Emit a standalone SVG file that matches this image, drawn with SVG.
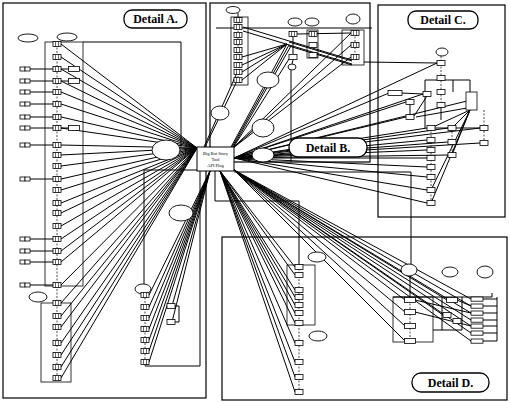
<svg xmlns="http://www.w3.org/2000/svg" width="510" height="402" viewBox="0 0 510 402">
<style>
.fr{fill:none;stroke:#000;stroke-width:1.2}
.bx{fill:none;stroke:#000;stroke-width:0.8}
.lb{fill:#fff;stroke:#000;stroke-width:1.3}
.lt{font-family:'Liberation Serif','Times New Roman',serif;font-weight:bold;font-size:12px;text-anchor:middle}
.ct{font-family:'Liberation Serif',serif;font-size:4.5px;text-anchor:middle}
.n{fill:#fff;stroke:#000;stroke-width:0.8}
.e{fill:#fff;stroke:#000;stroke-width:0.9}
.c line,.c polyline,.c path{stroke:#000;stroke-width:1;fill:none}
.c .d{stroke-dasharray:2 1.5;stroke-width:0.7}
</style>
<defs>
<g id="in"><rect x="-4" y="-2.5" width="8" height="5" class="n"/><line x1="-1.5" y1="-2.5" x2="-1.5" y2="2.5" stroke="#000" stroke-width="0.6"/><line x1="1.5" y1="-2.5" x2="1.5" y2="2.5" stroke="#000" stroke-width="0.6"/></g>
<g id="sn"><rect x="-4" y="-2.5" width="8" height="5" class="n"/></g>
<g id="wn"><rect x="-5.5" y="-2.5" width="11" height="5" class="n"/></g>
<g id="wd"><rect x="-6" y="-2" width="12" height="4.2" class="n"/></g>
<g id="pr"><rect x="-5" y="-2" width="5" height="4" class="n"/><rect x="0" y="-2" width="5" height="4" class="n"/></g>
</defs>
<rect width="510" height="402" fill="#fff"/>

<g id="frames">
<rect class="fr" x="3" y="3" width="203" height="395"/>
<rect class="fr" x="210" y="3" width="160" height="159"/>
<rect class="fr" x="378" y="5" width="127" height="212"/>
<rect class="fr" x="222" y="237" width="285" height="163"/>
<rect class="bx" x="45" y="42" width="38" height="244"/>
<rect class="bx" x="41" y="303" width="30" height="79"/>
<rect class="bx" x="231" y="17" width="17" height="68"/>
<rect class="bx" x="307" y="30" width="11" height="28"/>
<rect class="bx" x="342" y="30" width="22" height="35"/>
<rect class="bx" x="287" y="265" width="28" height="60"/>
<rect class="bx" x="393" y="297" width="40" height="45"/>
</g>

<g id="connectors" class="c">
<line x1="61" y1="44" x2="197" y2="148"/><line x1="61" y1="57" x2="197" y2="148"/><line x1="61" y1="69" x2="197" y2="148"/><line x1="61" y1="81" x2="197" y2="148"/><line x1="61" y1="92" x2="197" y2="148"/><line x1="61" y1="104" x2="197" y2="148"/><line x1="61" y1="117" x2="197" y2="148"/><line x1="61" y1="128" x2="197" y2="148"/><line x1="61" y1="145" x2="197" y2="148"/><line x1="61" y1="155" x2="197" y2="148"/><line x1="61" y1="166" x2="197" y2="148"/><line x1="61" y1="179" x2="197" y2="148"/><line x1="61" y1="190" x2="197" y2="148"/><line x1="61" y1="203" x2="197" y2="148"/><line x1="61" y1="213" x2="197" y2="148"/><line x1="61" y1="226" x2="197" y2="148"/><line x1="61" y1="239" x2="197" y2="148"/><line x1="61" y1="251" x2="197" y2="148"/><line x1="61" y1="262" x2="197" y2="148"/><line x1="61" y1="285" x2="197" y2="148"/><line x1="61" y1="303" x2="197" y2="148"/><line x1="61" y1="316" x2="197" y2="148"/><line x1="61" y1="327" x2="197" y2="148"/><line x1="61" y1="343" x2="197" y2="148"/><line x1="61" y1="355" x2="197" y2="148"/><line x1="61" y1="367" x2="197" y2="148"/><line x1="61" y1="378" x2="197" y2="148"/>
<line x1="149" y1="295" x2="210" y2="171"/><line x1="149" y1="307" x2="210" y2="171"/><line x1="149" y1="318" x2="210" y2="171"/><line x1="149" y1="329" x2="210" y2="171"/><line x1="149" y1="340" x2="210" y2="171"/><line x1="149" y1="351" x2="210" y2="171"/><line x1="149" y1="362" x2="210" y2="171"/><line x1="172" y1="306" x2="210" y2="171"/><line x1="172" y1="322" x2="210" y2="171"/>
<line x1="295" y1="267" x2="220" y2="171"/><line x1="295" y1="275" x2="220" y2="171"/><line x1="295" y1="290" x2="220" y2="171"/><line x1="295" y1="297" x2="220" y2="171"/><line x1="295" y1="305" x2="220" y2="171"/><line x1="295" y1="313" x2="220" y2="171"/><line x1="295" y1="323" x2="220" y2="171"/><line x1="295" y1="343" x2="220" y2="171"/><line x1="295" y1="362" x2="220" y2="171"/><line x1="295" y1="377" x2="220" y2="171"/><line x1="295" y1="392" x2="220" y2="171"/>
<line x1="405" y1="300" x2="234" y2="170"/><line x1="405" y1="312" x2="234" y2="170"/><line x1="405" y1="326" x2="234" y2="170"/><line x1="405" y1="341" x2="234" y2="170"/><line x1="447" y1="300" x2="234" y2="170"/><line x1="443" y1="315" x2="234" y2="170"/><line x1="471" y1="299" x2="234" y2="170"/><line x1="471" y1="306" x2="234" y2="170"/><line x1="471" y1="313" x2="234" y2="170"/><line x1="471" y1="320" x2="234" y2="170"/><line x1="471" y1="326" x2="234" y2="170"/><line x1="471" y1="333" x2="234" y2="170"/><line x1="471" y1="341" x2="234" y2="170"/>
<line x1="389" y1="93" x2="234" y2="158"/><line x1="406" y1="102" x2="234" y2="158"/><line x1="406" y1="117" x2="234" y2="158"/><line x1="423" y1="94" x2="234" y2="158"/><line x1="437" y1="63" x2="234" y2="158"/><line x1="427" y1="128" x2="234" y2="158"/><line x1="448" y1="128" x2="234" y2="158"/><line x1="480" y1="128" x2="234" y2="158"/><line x1="427" y1="140" x2="234" y2="158"/><line x1="427" y1="150" x2="234" y2="158"/><line x1="427" y1="158" x2="234" y2="158"/><line x1="427" y1="167" x2="234" y2="158"/><line x1="427" y1="177" x2="234" y2="158"/><line x1="427" y1="190" x2="234" y2="158"/><line x1="427" y1="203" x2="234" y2="158"/><line x1="448" y1="142" x2="234" y2="158"/><line x1="448" y1="155" x2="234" y2="158"/><line x1="480" y1="143" x2="234" y2="158"/><line x1="467" y1="101" x2="234" y2="158"/>
<line x1="287" y1="44" x2="231" y2="147"/><line x1="289" y1="45" x2="232" y2="147"/><line x1="291" y1="46" x2="233" y2="147"/><line x1="289" y1="59" x2="233" y2="148"/><line x1="351" y1="33" x2="233" y2="148"/><line x1="351" y1="45" x2="233" y2="148"/><line x1="351" y1="57" x2="233" y2="148"/>
<line x1="236" y1="75" x2="204" y2="147"/><line x1="236" y1="83" x2="205" y2="147"/>
<line x1="287" y1="44" x2="242" y2="57"/><line x1="287" y1="44" x2="242" y2="65"/><line x1="287" y1="44" x2="242" y2="72"/><line x1="287" y1="44" x2="242" y2="80"/>
<line x1="243" y1="27" x2="352" y2="60"/><line x1="243" y1="31" x2="352" y2="64"/>
<line x1="289" y1="42" x2="352" y2="61"/><line x1="289" y1="46" x2="352" y2="65"/>
<line x1="216" y1="28" x2="372" y2="28"/>
<line x1="297" y1="34" x2="351" y2="33"/>
<line x1="364" y1="62" x2="437" y2="63"/>
<line x1="291" y1="70" x2="291" y2="162"/>
<line x1="238" y1="13" x2="238" y2="20"/>
<line class="d" x1="238" y1="20" x2="238" y2="80"/>
<line class="d" x1="355" y1="33" x2="355" y2="57"/>
<line x1="293" y1="37" x2="293" y2="54"/>
<line x1="293" y1="60" x2="292" y2="64"/>
<polyline points="83,42 181,42 181,147"/>
<polyline points="197,170 144,170 144,284"/>
<line class="d" x1="145" y1="294" x2="145" y2="366"/>
<polyline points="145,366 200,366 200,171"/>
<line class="d" x1="57" y1="44" x2="57" y2="378"/>
<line x1="30" y1="69" x2="53" y2="69"/><line x1="30" y1="81" x2="53" y2="81"/><line x1="30" y1="92" x2="53" y2="92"/><line x1="30" y1="104" x2="53" y2="104"/><line x1="30" y1="117" x2="53" y2="117"/><line x1="30" y1="128" x2="53" y2="128"/><line x1="30" y1="145" x2="53" y2="145"/><line x1="30" y1="179" x2="53" y2="179"/><line x1="30" y1="239" x2="53" y2="239"/><line x1="30" y1="251" x2="53" y2="251"/><line x1="30" y1="262" x2="53" y2="262"/><line x1="30" y1="285" x2="53" y2="285"/>
<line x1="61" y1="69" x2="69" y2="69"/><line x1="61" y1="81" x2="69" y2="81"/><line x1="61" y1="128" x2="69" y2="128"/>
<polyline points="175,306 179,306 179,322 175,322"/>
<polyline points="215,171 215,201 299,201 299,265"/>
<polyline points="234,172 411,172 411,264"/>
<line x1="410" y1="276" x2="410" y2="297"/>
<line class="d" x1="299" y1="265" x2="299" y2="392"/>
<line class="d" x1="410" y1="300" x2="410" y2="341"/>
<polyline points="393,297 492,297 492,293"/>
<line x1="497" y1="297" x2="497" y2="341"/>
<line x1="483" y1="299" x2="497" y2="299"/><line x1="483" y1="306" x2="497" y2="306"/><line x1="483" y1="313" x2="497" y2="313"/><line x1="483" y1="320" x2="497" y2="320"/><line x1="483" y1="326" x2="497" y2="326"/><line x1="483" y1="333" x2="497" y2="333"/><line x1="483" y1="341" x2="497" y2="341"/>
<line x1="442" y1="297" x2="442" y2="330"/><line x1="462" y1="297" x2="462" y2="330"/><line x1="433" y1="330" x2="462" y2="330"/>
<line x1="415" y1="312" x2="471" y2="326"/><line x1="415" y1="300" x2="471" y2="313"/>
<line x1="457" y1="300" x2="471" y2="306"/>
<line class="d" x1="441" y1="56" x2="441" y2="105"/>
<polyline points="425,128 425,80 470,80 470,92"/>
<line x1="453" y1="80" x2="453" y2="92"/>
<line x1="401" y1="93" x2="423" y2="94"/>
<line x1="410" y1="102" x2="410" y2="117"/>
<line x1="414" y1="116" x2="427" y2="96"/>
<line x1="416" y1="117" x2="467" y2="108"/>
<line x1="470" y1="110" x2="431" y2="128"/><line x1="470" y1="110" x2="452" y2="128"/><line x1="470" y1="110" x2="452" y2="155"/><line x1="470" y1="110" x2="431" y2="203"/><line x1="470" y1="110" x2="431" y2="190"/>
<line class="d" x1="484" y1="110" x2="484" y2="143"/>
<line class="d" x1="452" y1="128" x2="452" y2="155"/>
<line class="d" x1="431" y1="128" x2="431" y2="203"/>
<line x1="435" y1="128" x2="448" y2="128"/><line x1="456" y1="128" x2="480" y2="128"/>
<line x1="441" y1="105" x2="441" y2="120"/>
</g>

<g id="center"><rect x="197" y="147" width="37" height="24" fill="#fff" stroke="#000" stroke-width="1"/>
<text class="ct" x="215.5" y="155">Big Bot Story</text><text class="ct" x="215.5" y="161">Tool</text><text class="ct" x="215.5" y="167">API Plug</text></g>

<g id="ellipses">
<g id="eA1"><ellipse class="e" cx="28" cy="38" rx="10" ry="4"/></g>
<g id="eA2"><ellipse class="e" cx="67" cy="37" rx="10" ry="4"/></g>
<g id="eA3"><ellipse class="e" cx="38" cy="297" rx="9" ry="5"/></g>
<g id="eA4"><ellipse class="e" cx="166" cy="150" rx="14" ry="10"/></g>
<g id="eA5"><ellipse class="e" cx="181" cy="213" rx="12" ry="8"/></g>
<g id="eA6"><ellipse class="e" cx="143" cy="289" rx="8" ry="5"/></g>
<g id="eB1"><ellipse class="e" cx="233" cy="10" rx="7" ry="3.5"/></g>
<g id="eB2"><ellipse class="e" cx="295" cy="22" rx="7" ry="4"/></g>
<g id="eB3"><ellipse class="e" cx="312" cy="22" rx="7" ry="4"/></g>
<g id="eB4"><ellipse class="e" cx="353" cy="19" rx="7" ry="5"/></g>
<g id="eB5"><ellipse class="e" cx="292" cy="67" rx="4" ry="3"/></g>
<g id="eB6"><ellipse class="e" cx="220" cy="113" rx="9" ry="7"/></g>
<g id="eB7"><ellipse class="e" cx="268" cy="80" rx="11" ry="8"/></g>
<g id="eB8"><ellipse class="e" cx="263" cy="128" rx="11" ry="9"/></g>
<g id="eB9"><ellipse class="e" cx="263" cy="155" rx="11" ry="7"/></g>
<g id="eC1"><ellipse class="e" cx="442" cy="52" rx="6" ry="4"/></g>
<g id="eD1"><ellipse class="e" cx="317" cy="257" rx="9" ry="5"/></g>
<g id="eD2"><ellipse class="e" cx="318" cy="336" rx="9" ry="5"/></g>
<g id="eD3"><ellipse class="e" cx="409" cy="270" rx="8" ry="6"/></g>
<g id="eD4"><ellipse class="e" cx="450" cy="272" rx="8" ry="5"/></g>
<g id="eD5"><ellipse class="e" cx="485" cy="272" rx="8" ry="6"/></g>
</g>

<g id="nodesA">
<g id="a1"><use href="#in" x="57" y="44"/></g><g id="a2"><use href="#in" x="57" y="57"/></g><g id="a3"><use href="#in" x="57" y="69"/></g><g id="a4"><use href="#in" x="57" y="81"/></g><g id="a5"><use href="#in" x="57" y="92"/></g><g id="a6"><use href="#in" x="57" y="104"/></g><g id="a7"><use href="#in" x="57" y="117"/></g><g id="a8"><use href="#in" x="57" y="128"/></g><g id="a9"><use href="#in" x="57" y="145"/></g><g id="a10"><use href="#in" x="57" y="155"/></g><g id="a11"><use href="#in" x="57" y="166"/></g><g id="a12"><use href="#in" x="57" y="179"/></g><g id="a13"><use href="#in" x="57" y="190"/></g><g id="a14"><use href="#in" x="57" y="203"/></g><g id="a15"><use href="#in" x="57" y="213"/></g><g id="a16"><use href="#in" x="57" y="226"/></g><g id="a17"><use href="#in" x="57" y="239"/></g><g id="a18"><use href="#in" x="57" y="251"/></g><g id="a19"><use href="#in" x="57" y="262"/></g><g id="a20"><use href="#in" x="57" y="285"/></g>
<g id="a21"><use href="#in" x="57" y="303"/></g><g id="a22"><use href="#in" x="57" y="316"/></g><g id="a23"><use href="#in" x="57" y="327"/></g><g id="a24"><use href="#in" x="57" y="343"/></g><g id="a25"><use href="#in" x="57" y="355"/></g><g id="a26"><use href="#in" x="57" y="367"/></g><g id="a27"><use href="#in" x="57" y="378"/></g>
<g id="p1"><use href="#pr" x="25" y="69"/></g><g id="p2"><use href="#pr" x="25" y="81"/></g><g id="p3"><use href="#pr" x="25" y="92"/></g><g id="p4"><use href="#pr" x="25" y="104"/></g><g id="p5"><use href="#pr" x="25" y="117"/></g><g id="p6"><use href="#pr" x="25" y="128"/></g><g id="p7"><use href="#pr" x="25" y="145"/></g><g id="p8"><use href="#pr" x="25" y="179"/></g><g id="p9"><use href="#pr" x="25" y="239"/></g><g id="p10"><use href="#pr" x="25" y="251"/></g><g id="p11"><use href="#pr" x="25" y="262"/></g><g id="p12"><use href="#pr" x="25" y="285"/></g>
<g id="s1"><use href="#wn" x="74" y="69"/></g><g id="s2"><use href="#wn" x="74" y="81"/></g><g id="s3"><use href="#wn" x="74" y="128"/></g>
<g id="m1"><use href="#in" x="145" y="295"/></g><g id="m2"><use href="#in" x="145" y="307"/></g><g id="m3"><use href="#in" x="145" y="318"/></g><g id="m4"><use href="#in" x="145" y="329"/></g><g id="m5"><use href="#in" x="145" y="340"/></g><g id="m6"><use href="#in" x="145" y="351"/></g><g id="m7"><use href="#in" x="145" y="362"/></g>
<g id="m8"><use href="#sn" x="171" y="306"/></g><g id="m9"><use href="#sn" x="171" y="322"/></g>
</g>

<g id="nodesB">
<g id="b1"><use href="#in" x="238" y="20"/></g><g id="b2"><use href="#in" x="238" y="27"/></g><g id="b3"><use href="#in" x="238" y="35"/></g><g id="b4"><use href="#in" x="238" y="42"/></g><g id="b5"><use href="#in" x="238" y="50"/></g><g id="b6"><use href="#in" x="238" y="57"/></g><g id="b7"><use href="#in" x="238" y="65"/></g><g id="b8"><use href="#in" x="238" y="72"/></g><g id="b9"><use href="#in" x="238" y="80"/></g>
<g id="b10"><use href="#in" x="293" y="34"/></g><g id="b11"><use href="#in" x="313" y="34"/></g><g id="b12"><use href="#sn" x="313" y="45"/></g><g id="b13"><use href="#sn" x="313" y="55"/></g><g id="b14"><use href="#sn" x="293" y="57"/></g>
<g id="b15"><use href="#in" x="355" y="33"/></g><g id="b16"><use href="#in" x="355" y="45"/></g><g id="b17"><use href="#in" x="355" y="57"/></g>
</g>

<g id="nodesC">
<g id="c1"><use href="#sn" x="441" y="63"/></g><g id="c2"><use href="#sn" x="441" y="78"/></g><g id="c3"><use href="#sn" x="441" y="92"/></g><g id="c4"><use href="#sn" x="441" y="105"/></g>
<g id="c5"><rect class="n" x="388" y="90.5" width="14" height="5"/></g>
<g id="c6"><use href="#sn" x="427" y="94"/></g>
<g id="c7"><use href="#sn" x="410" y="102"/></g><g id="c8"><use href="#sn" x="410" y="117"/></g>
<g id="c9"><rect class="n" x="466" y="92" width="11" height="18"/></g>
<g id="c10"><use href="#sn" x="431" y="128"/></g><g id="c11"><use href="#sn" x="452" y="128"/></g><g id="c12"><use href="#sn" x="484" y="128"/></g><g id="c13"><use href="#sn" x="484" y="143"/></g><g id="c14"><use href="#sn" x="452" y="142"/></g><g id="c15"><use href="#sn" x="452" y="155"/></g>
<g id="c16"><use href="#sn" x="431" y="140"/></g><g id="c17"><use href="#sn" x="431" y="150"/></g><g id="c18"><use href="#sn" x="431" y="158"/></g><g id="c19"><use href="#sn" x="431" y="167"/></g><g id="c20"><use href="#sn" x="431" y="177"/></g><g id="c21"><use href="#sn" x="431" y="190"/></g><g id="c22"><use href="#sn" x="431" y="203"/></g>
</g>

<g id="nodesD">
<g id="d1"><use href="#sn" x="299" y="267"/></g><g id="d2"><use href="#sn" x="299" y="275"/></g><g id="d3"><use href="#sn" x="299" y="290"/></g><g id="d4"><use href="#sn" x="299" y="297"/></g><g id="d5"><use href="#sn" x="299" y="305"/></g><g id="d6"><use href="#sn" x="299" y="313"/></g><g id="d7"><use href="#sn" x="299" y="323"/></g><g id="d8"><use href="#sn" x="299" y="343"/></g><g id="d9"><use href="#sn" x="299" y="362"/></g><g id="d10"><use href="#sn" x="299" y="377"/></g><g id="d11"><use href="#sn" x="299" y="392"/></g>
<g id="d12"><use href="#wn" x="410" y="300"/></g><g id="d13"><use href="#wn" x="410" y="312"/></g><g id="d14"><use href="#wn" x="410" y="326"/></g><g id="d15"><use href="#wn" x="410" y="341"/></g>
<g id="d16"><use href="#wn" x="452" y="300"/></g><g id="d17"><use href="#sn" x="447" y="315"/></g><g id="d18"><use href="#sn" x="457" y="321"/></g>
<g id="d19"><use href="#wd" x="477" y="299"/></g><g id="d20"><use href="#wd" x="477" y="306"/></g><g id="d21"><use href="#wd" x="477" y="313"/></g><g id="d22"><use href="#wd" x="477" y="320"/></g><g id="d23"><use href="#wd" x="477" y="326"/></g><g id="d24"><use href="#wd" x="477" y="333"/></g><g id="d25"><use href="#wd" x="477" y="341"/></g>
</g>

<g id="labels">
<g id="labelA"><rect class="lb" x="124" y="10" width="63" height="18" rx="8"/><text class="lt" x="155.5" y="23" font-family="'Liberation Serif', serif">Detail A.</text></g>
<g id="labelB"><rect class="lb" x="289" y="138" width="78" height="19" rx="9"/><text class="lt" x="328" y="152" font-size="13" font-family="'Liberation Serif', serif">Detail B.</text></g>
<g id="labelC"><rect class="lb" x="408" y="11" width="70" height="18" rx="8"/><text class="lt" x="443" y="24" font-family="'Liberation Serif', serif">Detail C.</text></g>
<g id="labelD"><rect class="lb" x="412" y="373" width="77" height="19" rx="9"/><text class="lt" x="450.5" y="387" font-family="'Liberation Serif', serif">Detail D.</text></g>
</g>
</svg>
